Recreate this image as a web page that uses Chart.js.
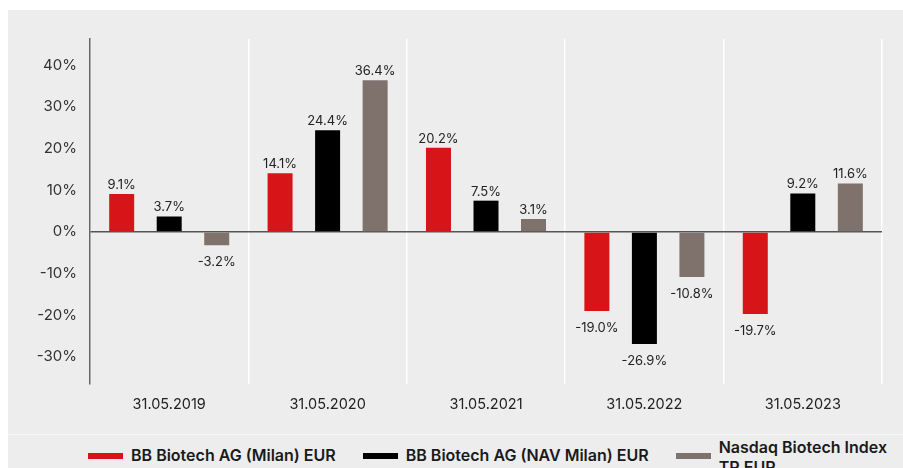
<!doctype html>
<html lang="en">

<head>
	<meta charset="utf-8">
	<meta name="viewport" content="width=device-width, initial-scale=1">
	<title>BB Biotech performance</title>
	<style>
		* {
			margin: 0;
			padding: 0;
			font-family: Inter, sans-serif;
		}

		body {
			width: 903px;
			height: 468px;
			overflow: hidden;
			background: #fff;
			position: relative;
		}

		.panel {
			position: absolute;
			left: 8px;
			top: 10px;
			width: 895px;
			height: 470px;
			background: #ededed;
		}

		.chartBox {
			position: absolute;
			left: 0;
			top: 0;
			width: 895px;
			height: 424px;
		}

		.divider {
			position: absolute;
			left: 0;
			top: 424px;
			width: 895px;
			height: 1px;
			background: #f7f7f7;
		}

		.legend {
			position: absolute;
			left: 80px;
			top: 426px;
			width: 840px;
			height: 40px;
			display: flex;
			align-items: center;
		}

		.legend-item {
			display: flex;
			align-items: center;
			flex-shrink: 0;
			margin-right: 27px;
			font-size: 16px;
			font-weight: 600;
			line-height: 20px;
			color: #1a1a1a;
			white-space: nowrap;
		}

		.legend-item span {
			position: relative;
			top: -1px;
		}

		.legend-item i {
			display: block;
			width: 35px;
			height: 6px;
			margin-right: 8px;
		}

		.legend-item:last-child span {
			white-space: normal;
			width: 180px;
			top: 1px;
		}
	</style>
</head>

<body>
	<div class="panel">
		<div class="chartBox">
			<canvas id="perfChart"></canvas>
		</div>
		<div class="divider"></div>
		<div class="legend" id="legend"></div>
	</div>
	<script src="https://cdn.jsdelivr.net/npm/chart.js"></script>

	<script>
		const categories = ['31.05.2019', '31.05.2020', '31.05.2021', '31.05.2022', '31.05.2023']
		const seriesNames = ['BB Biotech AG (Milan) EUR', 'BB Biotech AG (NAV Milan) EUR', 'Nasdaq Biotech Index TR EUR']
		const milanValues = [9.1, 14.1, 20.2, -19.0, -19.7]
		const navValues = [3.7, 24.4, 7.5, -26.9, 9.2]
		const nasdaqValues = [-3.2, 36.4, 3.1, -10.8, 11.6]
		const yTicks = [-30, -20, -10, 0, 10, 20, 30, 40]
		const seriesColors = ['#d71417', '#000000', '#7f716c']

		Chart.defaults.font.family = 'Inter, sans-serif'

		// value labels above / below each bar
		const barLabels = {
			id: 'barLabels',
			afterDatasetsDraw(chart) {
				const ctx = chart.ctx
				ctx.save()
				ctx.font = '13px Inter, sans-serif'
				ctx.fillStyle = '#222'
				ctx.textAlign = 'center'
				ctx.textBaseline = 'middle'
				chart.data.datasets.forEach((ds, i) => {
					chart.getDatasetMeta(i).data.forEach((bar, j) => {
						const v = ds.data[j]
						const y = v >= 0 ? bar.y - 9 : bar.y + 17
						ctx.fillText(v.toFixed(1) + '%', bar.x, y)
					})
				})
				ctx.restore()
			}
		}

		const values = [milanValues, navValues, nasdaqValues]

		// setup 
		const data = {
			labels: categories,
			datasets: values.map((vals, i) => ({
				label: seriesNames[i],
				data: vals,
				backgroundColor: seriesColors[i],
				categoryPercentage: 0.9,
				barPercentage: 0.526,
			}))
		}

		// config 
		const config = {
			type: 'bar',
			data: data,
			plugins: [barLabels],
			options: {
				responsive: true,
				maintainAspectRatio: false,
				animation: false,
				layout: {
					padding: { top: 29, right: 21, bottom: 0, left: 0 }
				},
				scales: {
					x: {
						grid: { color: '#ffffff', lineWidth: 1.5, drawTicks: false, offset: true },
						border: { display: false },
						ticks: { color: '#222', font: { size: 14.5 }, padding: 12 },
						afterFit: s => { s.height = 50 }
					},
					y: {
						min: -36.5,
						max: 46.3,
						bounds: 'data',
						afterBuildTicks: s => { s.ticks = yTicks.map(v => ({ value: v })) },
						grid: {
							drawTicks: false,
							lineWidth: 1.5,
							color: c => (c.tick && c.tick.value === 0) ? '#555' : 'rgba(0,0,0,0)'
						},
						border: { color: '#666', width: 1.5 },
						ticks: { color: '#333', font: { size: 15 }, padding: 13, callback: v => v + '%' },
						afterFit: s => { s.width = 82 }
					}
				},
				plugins: {
					legend: { display: false },
					tooltip: { enabled: false }
				}
			}
		}

		const perfChart = new Chart(document.getElementById('perfChart'), config)

		// html legend, wraps the long label like the original
		const legendEl = document.getElementById('legend')
		seriesNames.forEach((name, i) => {
			const item = document.createElement('div')
			item.className = 'legend-item'
			const box = document.createElement('i')
			box.style.background = seriesColors[i]
			const text = document.createElement('span')
			text.textContent = name
			item.appendChild(box)
			item.appendChild(text)
			legendEl.appendChild(item)
		})
	</script>

</body>

</html>
